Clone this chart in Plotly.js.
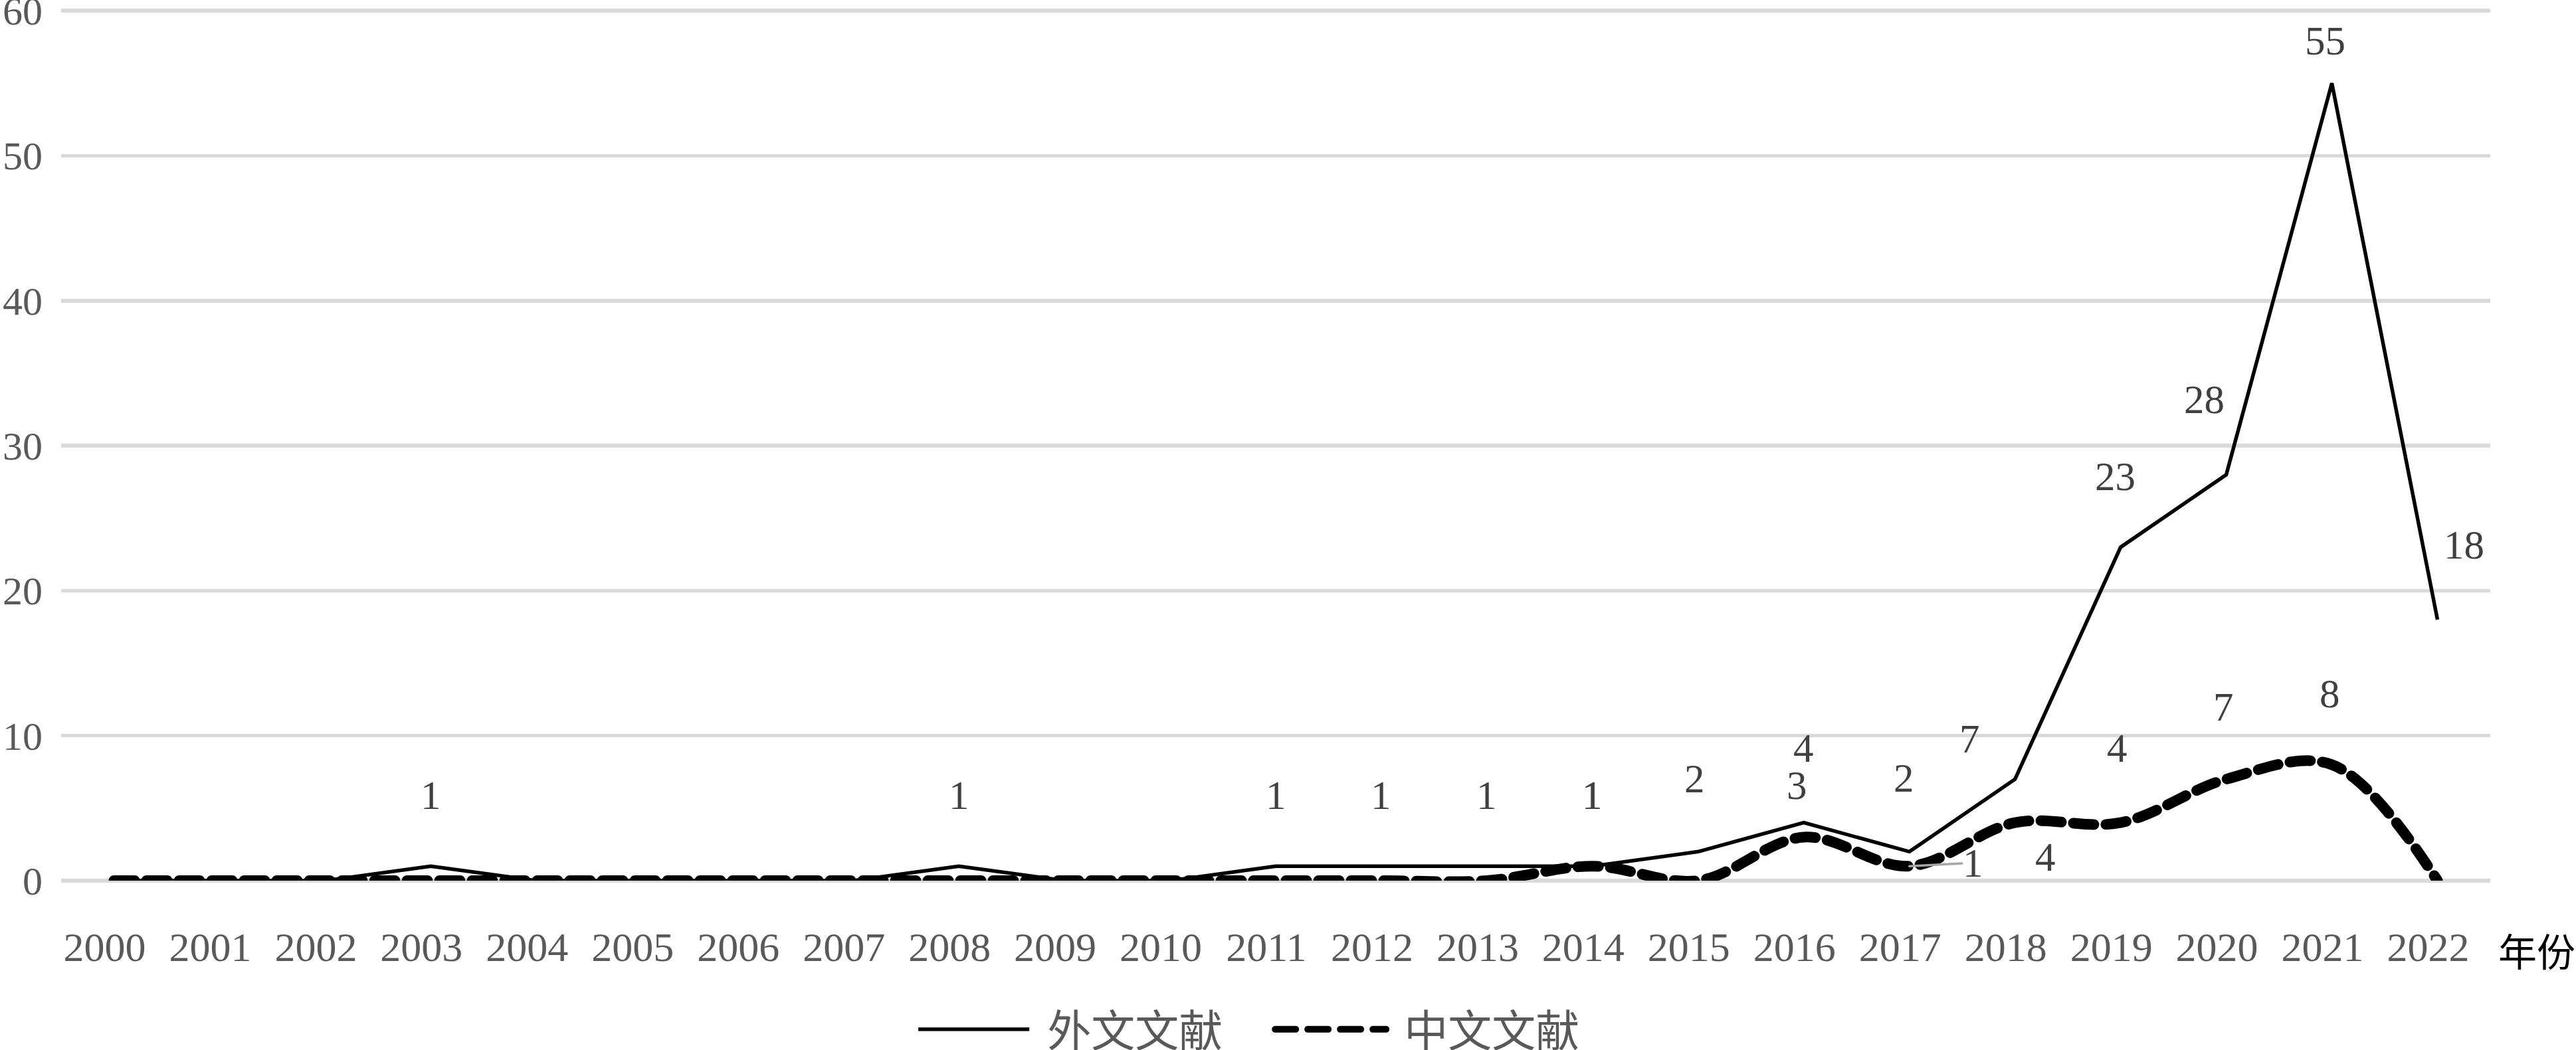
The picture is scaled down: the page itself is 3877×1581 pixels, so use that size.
<!DOCTYPE html>
<html>
<head>
<meta charset="utf-8">
<script src="https://cdn.plot.ly/plotly-3.0.1.min.js"></script>
<style>
html,body{margin:0;padding:0;background:#fff;}
#chart{width:3877px;height:1581px;}
</style>
</head>
<body>
<div id="chart"></div>
<script>
// ---- data ----
const years = ['2000','2001','2002','2003','2004','2005','2006','2007','2008','2009','2010','2011',
               '2012','2013','2014','2015','2016','2017','2018','2019','2020','2021','2022'];
const foreignPapers = [0,0,0,1,0,0,0,0,1,0,0,1,1,1,1,2,4,2,7,23,28,55,18];
const chinesePapers = [0,0,0,0,0,0,0,0,0,0,0,0,0,0,1,0,3,1,4,4,7,8,0];
const seriesNames = ['外文文献','中文文献'];
const yTicks = [0,10,20,30,40,50,60];
const xUnitLabel = '年份';

// ---- label placement (pixel offsets: [dx, dyUp, leader?]) ----
const foreignLabelPos = {
  '2003':[0,107],'2008':[0,107],'2011':[0,107],'2012':[0,107],'2013':[0,107],'2014':[0,107],
  '2015':[-5,110],'2016':[0,112],'2017':[-8,111],'2018':[-68,61],'2019':[-8,106],
  '2020':[-33,113],'2021':[-10,64],'2022':[40,113]
};
const chineseLabelPos = {
  '2014':[0,107],'2016':[-10,78],'2017':[96,5,true],'2018':[46,-52],'2019':[-5,112],
  '2020':[-4,109],'2021':[-3,107]
};

const labelFont = {family:'Liberation Serif, Times New Roman, serif', size:61, color:'#404040'};
const xTickFont = {family:'Liberation Serif, Times New Roman, serif', size:62, color:'#595959'};
const yTickFont = {family:'Liberation Serif, Times New Roman, serif', size:60, color:'#595959'};
const cjkFont = 'Noto Sans CJK SC, sans-serif';

function buildLabels(vals, pos) {
  const out = [];
  years.forEach((yr, i) => {
    const p = pos[yr];
    if (!p) return;
    const a = {x: i, y: vals[i], xref:'x', yref:'y', text: String(vals[i]), font: labelFont};
    if (p[2]) {
      Object.assign(a, {showarrow:true, arrowhead:0, arrowwidth:3.5, arrowcolor:'#a6a6a6',
                        ax:p[0], ay:-p[1], standoff:0});
    } else {
      Object.assign(a, {showarrow:false, xshift:p[0], yshift:p[1]});
    }
    out.push(a);
  });
  return out;
}

const traces = [
  {x: years, y: foreignPapers, type:'scatter', mode:'lines', name: seriesNames[0],
   line:{color:'#000000', width:5.5}, hoverinfo:'skip', cliponaxis:false},
  {x: years, y: chinesePapers, type:'scatter', mode:'lines', name: seriesNames[1],
   line:{color:'#000000', width:16, dash:'31px,18px', shape:'spline', smoothing:1},
   hoverinfo:'skip', cliponaxis:false}
];

const annotations = buildLabels(foreignPapers, foreignLabelPos)
  .concat(buildLabels(chinesePapers, chineseLabelPos));
annotations.push({xref:'paper', yref:'paper', x:1.0027, y:-0.0793, xanchor:'left', yanchor:'middle',
  text: xUnitLabel, showarrow:false, font:{family:cjkFont, size:58, color:'#000000'}});

const layout = {
  width:3877, height:1581,
  paper_bgcolor:'#ffffff', plot_bgcolor:'#ffffff',
  margin:{l:92, r:129, t:14, b:255, pad:0, autoexpand:false},
  showlegend:true,
  xaxis:{type:'category', range:[-0.5, years.length-0.5], autorange:false, automargin:false,
         tickvals: years, ticktext: years, showgrid:false, zeroline:false,
         showline:false, ticks:'', tickfont: xTickFont, ticklabelstandoff:58, ticklabelshift:-14,
         ticklabeloverflow:'allow', fixedrange:true},
  yaxis:{range:[0,60.1], autorange:false, automargin:false, tickvals: yTicks, showgrid:true,
         gridcolor:'#d9d9d9', gridwidth:5.5,
         zeroline:true, zerolinecolor:'#d9d9d9', zerolinewidth:5.5, showline:false, ticks:'',
         tickfont: yTickFont, ticklabelstandoff:27, ticklabeloverflow:'allow', fixedrange:true},
  legend:{orientation:'h', x:0.4984, xanchor:'center', y:-0.1707, yanchor:'middle',
          font:{family:cjkFont, size:66, color:'#595959'}, itemwidth:167, entrywidth:355,
          bgcolor:'rgba(0,0,0,0)', borderwidth:0, itemclick:false, itemdoubleclick:false},
  annotations: annotations
};

Plotly.newPlot('chart', traces, layout, {staticPlot:true, displayModeBar:false}).then(() => {
  document.querySelectorAll('path').forEach(p => {
    const d = p.style.strokeDasharray;
    if (d && d !== 'none') p.style.strokeLinecap = 'round';
  });
  document.querySelectorAll('.legendtext').forEach(t => {
    const x = parseFloat(t.getAttribute('x')) || 0;
    t.setAttribute('x', x + 22);
  });
});
</script>
</body>
</html>
